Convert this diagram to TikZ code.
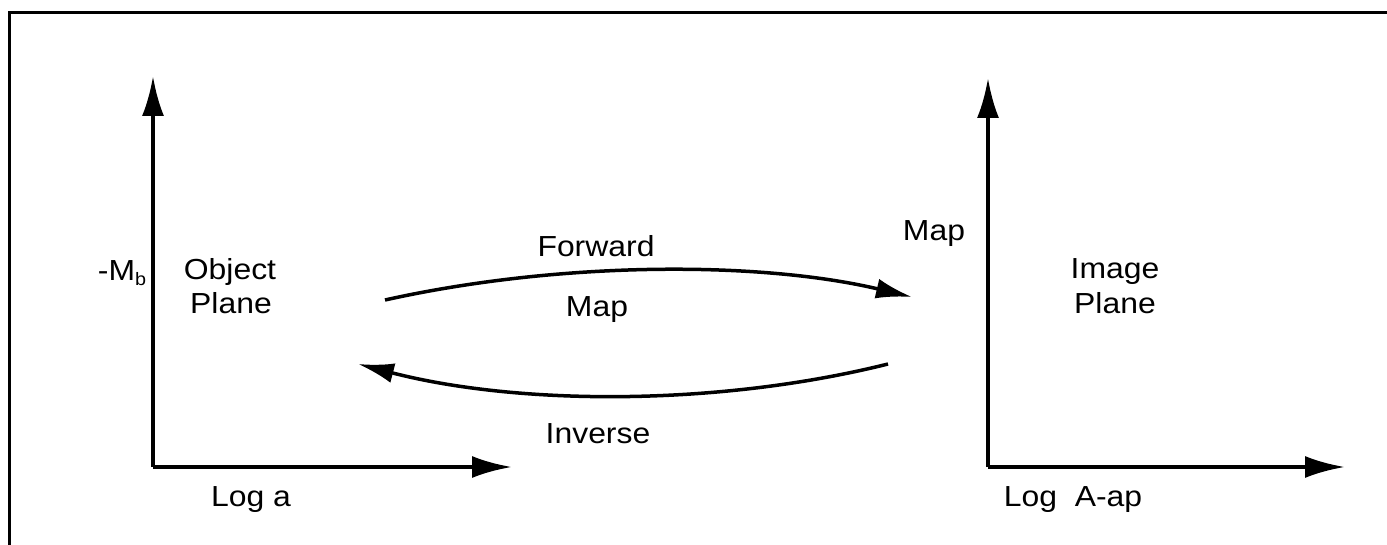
\documentclass[tikz,border=0pt]{standalone}
\usepackage{fontspec}
\setmainfont{Liberation Sans}[FakeStretch=1.1]
\usetikzlibrary{arrows.meta}
\begin{document}
\begin{tikzpicture}[x=1pt,y=-1pt,
  axis/.style={line width=4pt,-{Latex[length=40pt,width=22pt]}},
  maparc/.style={line width=3.5pt,-{Latex[length=36pt,width=20pt]}},
  frameline/.style={line width=3pt},
  lbl/.style={font=\fontsize{29}{34}\selectfont,inner sep=0pt}]
\useasboundingbox (0,0) rectangle (1387,545);
% frame
\coordinate (ftl) at (9,13);
\coordinate (ftr) at (1387,13);
\coordinate (fbl) at (9,545);
\draw[frameline] (fbl) -- (ftl) -- (ftr);
% left axes
\coordinate (lo) at (153,467);
\coordinate (ly) at (153,76);
\coordinate (lx) at (512,467);
\draw[axis] (lo) -- (ly);
\draw[axis] (lo) -- (lx);
% right axes
\coordinate (ro) at (988,467);
\coordinate (ry) at (988,78);
\coordinate (rx) at (1345,467);
\draw[axis] (ro) -- (ry);
\draw[axis] (ro) -- (rx);
% arcs
\coordinate (fs) at (385,300);
\coordinate (fe) at (912,297);
\draw[maparc] (fs) .. controls (560,261) and (760,261) .. (fe);
\coordinate (is) at (888,364);
\coordinate (ie) at (358,364);
\draw[maparc] (is) .. controls (720,406) and (520,406) .. (ie);
% labels
\node[lbl] (mb) at (122,273) {-M\raisebox{-5pt}{\fontsize{18}{18}\selectfont b}};
\node[lbl] (obj) at (230,272) {Object};
\node[lbl] (objp) at (231,303) {Plane};
\node[lbl] (loga) at (251,500) {Log a};
\node[lbl] (fwd) at (596,246) {Forward};
\node[lbl] (fmap) at (597,310) {Map};
\node[lbl] (inv) at (598,434) {Inverse};
\node[lbl] (rmap) at (934,234) {Map};
\node[lbl] (img) at (1115,272) {Image};
\node[lbl] (imgp) at (1115,303) {Plane};
\node[lbl] (logA) at (1073,500) {Log\ \ A-ap};
\end{tikzpicture}
\end{document}
